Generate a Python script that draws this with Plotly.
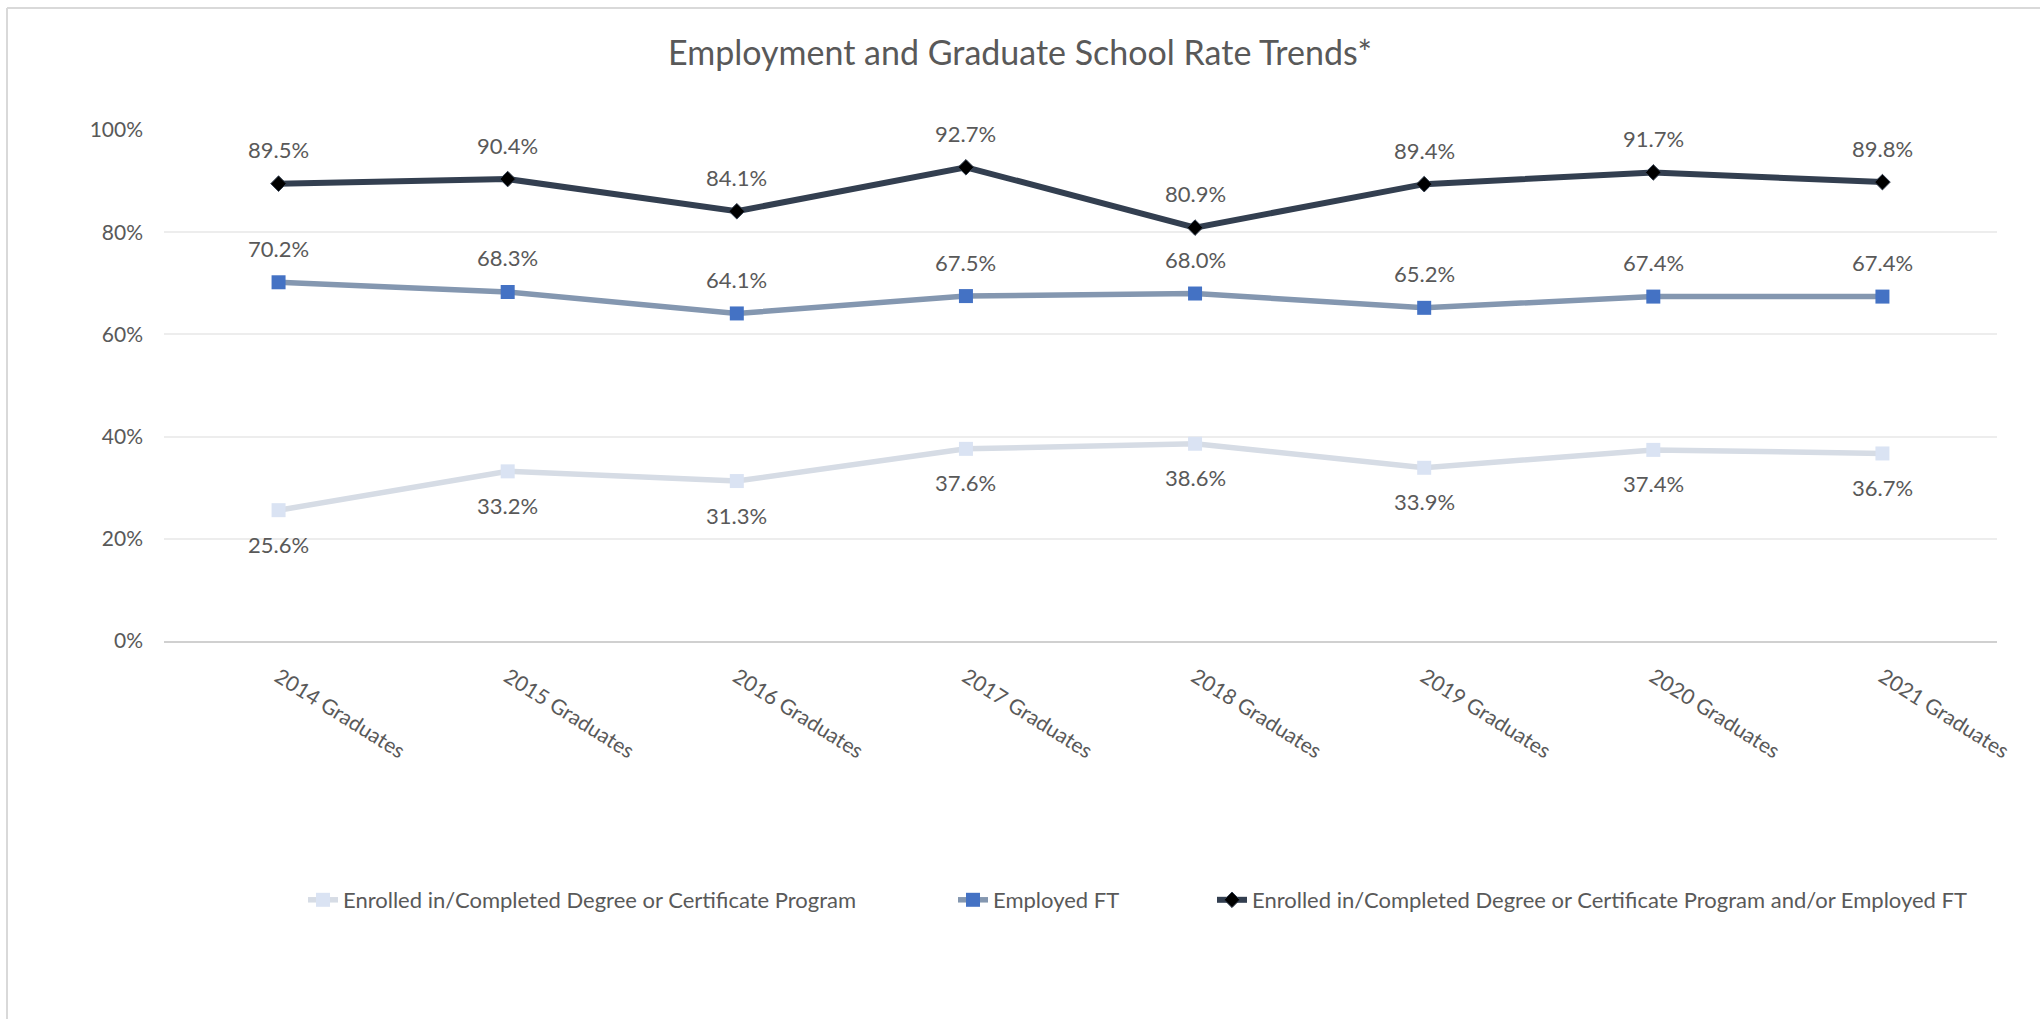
import plotly.graph_objects as go

categories = ["2014 Graduates", "2015 Graduates", "2016 Graduates", "2017 Graduates",
              "2018 Graduates", "2019 Graduates", "2020 Graduates", "2021 Graduates"]
enrolled = [25.6, 33.2, 31.3, 37.6, 38.6, 33.9, 37.4, 36.7]
employed = [70.2, 68.3, 64.1, 67.5, 68.0, 65.2, 67.4, 67.4]
combined = [89.5, 90.4, 84.1, 92.7, 80.9, 89.4, 91.7, 89.8]
series_names = ["Enrolled in/Completed Degree or Certificate Program",
                "Employed FT",
                "Enrolled in/Completed Degree or Certificate Program and/or Employed FT"]

W, H = 2040, 1019
L, R, T, B = 164, 43, 130, 378
FONT = "Lato"
GRAY = "#595959"

fig = go.Figure()
fig.add_trace(go.Scatter(
    x=categories, y=enrolled, name=series_names[0], mode="lines+markers",
    line=dict(color="#D6DCE5", width=5.5),
    marker=dict(symbol="square", size=14, color="#DAE3F3", line=dict(width=0)),
    legend="legend", showlegend=True))
fig.add_trace(go.Scatter(
    x=categories, y=employed, name=series_names[1], mode="lines+markers",
    line=dict(color="#8497B0", width=5.5),
    marker=dict(symbol="square", size=14, color="#4472C4", line=dict(width=0)),
    legend="legend2", showlegend=True))
fig.add_trace(go.Scatter(
    x=categories, y=combined, name=series_names[2], mode="lines+markers",
    line=dict(color="#333F50", width=6),
    marker=dict(symbol="diamond", size=12, color="#000000", line=dict(color="#333F50", width=1)),
    legend="legend3", showlegend=True))

annotations = []
for vals, shift in ((enrolled, -34), (employed, 34), (combined, 34)):
    for c, v in zip(categories, vals):
        annotations.append(dict(x=c, y=v, xref="x", yref="y", text=f"{v:.1f}%",
                                showarrow=False, yshift=shift, yanchor="middle",
                                font=dict(family=FONT, size=22, color=GRAY)))

def px_x(p):
    return p / W

def px_y(p):
    return 1 - p / H

legend_common = dict(orientation="h", xref="container", yref="container",
                     xanchor="left", yanchor="middle", y=px_y(900),
                     font=dict(family=FONT, size=22, color=GRAY),
                     bgcolor="rgba(0,0,0,0)")

# border (left + top) of the chart area
pw = W - L - R
ph = H - T - B
bx = (7 - L) / pw
by = 1 + (T - 8) / ph
shapes = [
    dict(type="line", xref="paper", yref="paper", x0=bx, x1=bx, y0=by, y1=-2,
         line=dict(color="#D9D9D9", width=2)),
    dict(type="line", xref="paper", yref="paper", x0=bx, x1=3, y0=by, y1=by,
         line=dict(color="#D9D9D9", width=2)),
]

fig.update_layout(
    width=W, height=H, autosize=False, showlegend=True,
    margin=dict(l=L, r=R, t=T, b=B, pad=0),
    paper_bgcolor="white", plot_bgcolor="white",
    font=dict(family=FONT, color=GRAY, size=21),
    title=dict(text="Employment and Graduate School Rate Trends*", x=0.5, xanchor="center",
               xref="container", yref="container", y=px_y(53), yanchor="middle",
               font=dict(family=FONT, size=34, color=GRAY)),
    xaxis=dict(type="category", range=[-0.5, 7.5], showgrid=False, zeroline=False,
               showline=True, linecolor="#D0D0D0", linewidth=1.5,
               tickangle=32, ticks="", ticklabelstandoff=14,
               tickfont=dict(family=FONT, size=21, color=GRAY)),
    yaxis=dict(range=[0, 100], dtick=20, ticksuffix="%", showgrid=True, gridcolor="#EDEDED",
               gridwidth=1.5, zeroline=False, showline=False, ticks="", ticklabelstandoff=20,
               tickfont=dict(family=FONT, size=21, color=GRAY)),
    legend=dict(x=px_x(344 - 41), **legend_common),
    legend2=dict(x=px_x(999 - 46), **legend_common),
    legend3=dict(x=px_x(1258 - 46), **legend_common),
    annotations=annotations,
    shapes=shapes,
)

fig.write_html("out.html", config={"displayModeBar": False},
               post_script="document.body.style.margin='0';document.body.style.overflow='hidden';")
